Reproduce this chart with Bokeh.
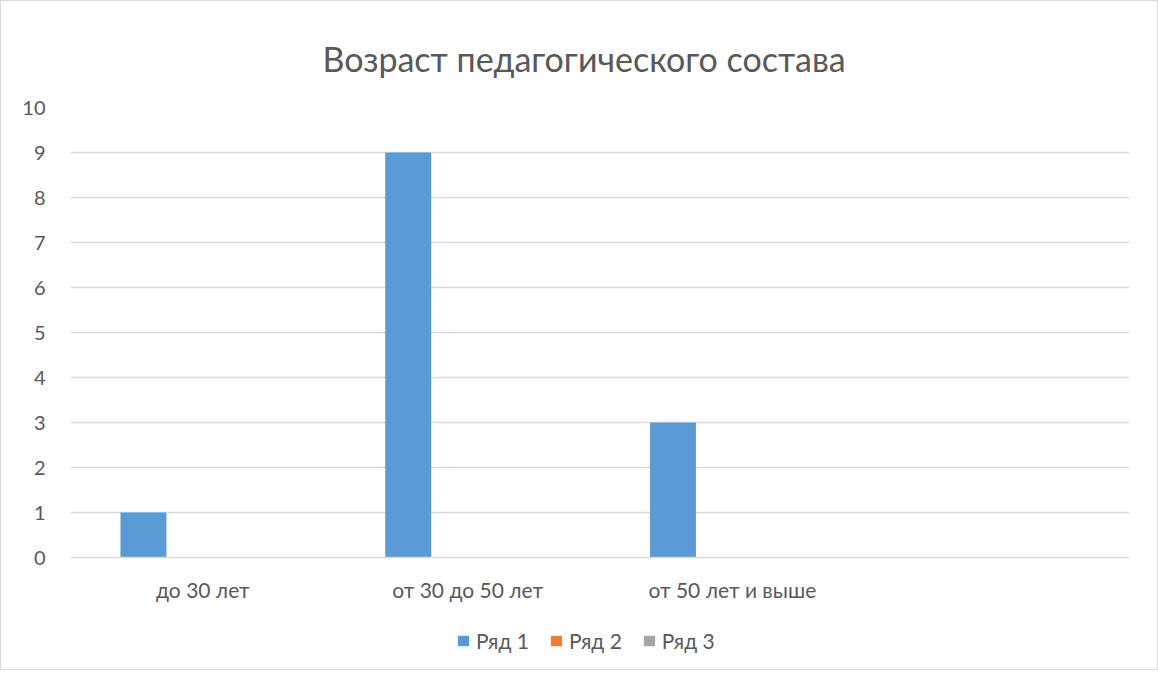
from bokeh.plotting import figure
from bokeh.layouts import column
from bokeh.models import FactorRange, ColumnDataSource, Legend, LegendItem, Range1d, FixedTicker
from bokeh.transform import dodge
from bokeh.embed import file_html
from bokeh.resources import INLINE

title_text = "Возраст педагогического состава"
categories = ["до 30 лет", "от 30 до 50 лет", "от 50 лет и выше", ""]
series_names = ["Ряд 1", "Ряд 2", "Ряд 3"]
series1 = [1, 9, 3, 0]
series2 = [0, 0, 0, 0]
series3 = [0, 0, 0, 0]
colors = ["#5B9BD5", "#ED7D31", "#A5A5A5"]
y_ticks = list(range(0, 11))

FONT = "Lato"
TXT = "#595959"

src = ColumnDataSource(dict(cat=categories, s1=series1, s2=series2, s3=series3))

p = figure(x_range=FactorRange(factors=categories), y_range=Range1d(0, 10),
           width=1156, height=606,
           min_border_left=69, min_border_right=28, min_border_top=106, min_border_bottom=50,
           output_backend="svg", toolbar_location=None, title=title_text)

p.title.align = "left"
p.title.offset = 252
p.title.text_font = FONT
p.title.text_font_size = "34px"
p.title.text_font_style = "normal"
p.title.text_color = TXT
p.title.standoff = 57

offsets = [-0.2244, 0.0, 0.2244]
keys = ["s1", "s2", "s3"]
for key, off, col in zip(keys, offsets, colors):
    p.vbar(x=dodge("cat", off, range=p.x_range), top=key, width=0.1737,
           source=src, fill_color=col, line_color=None)

p.outline_line_color = None
p.background_fill_color = "white"
p.border_fill_color = "white"

p.xgrid.grid_line_color = None
p.ygrid.grid_line_color = "#D9D9D9"
p.ygrid.grid_line_width = 1.3

p.yaxis.ticker = FixedTicker(ticks=y_ticks)
p.yaxis.axis_line_color = None
p.yaxis.major_tick_line_color = None
p.yaxis.minor_tick_line_color = None
p.yaxis.major_label_standoff = 19
p.yaxis.major_label_text_font = FONT
p.yaxis.major_label_text_font_size = "20px"
p.yaxis.major_label_text_color = TXT

p.xaxis.axis_line_color = "#D9D9D9"
p.xaxis.axis_line_width = 1.3
p.xaxis.major_tick_line_color = None
p.xaxis.minor_tick_line_color = None
p.xaxis.major_label_standoff = 13
p.xaxis.major_label_text_font = FONT
p.xaxis.major_label_text_font_size = "21px"
p.xaxis.major_label_text_color = TXT

# legend strip below the chart (its zero-width bars are invisible, only the legend shows)
lg = figure(width=1156, height=62, x_range=FactorRange(factors=categories), y_range=Range1d(-2, -1),
            min_border_left=0, min_border_right=0, min_border_top=0, min_border_bottom=0,
            output_backend="svg", toolbar_location=None)
lg.axis.visible = False
lg.grid.visible = False
lg.outline_line_color = None
lg_renderers = [lg.vbar(x="cat", top=key, width=0, source=src, fill_color=col, line_color=None)
                for key, col in zip(keys, colors)]

legend = Legend(items=[LegendItem(label=n, renderers=[r]) for n, r in zip(series_names, lg_renderers)],
                orientation="horizontal", location=(386, 16),
                glyph_width=14, glyph_height=13, label_standoff=6, spacing=20,
                label_height=20,
                label_text_font=FONT, label_text_font_size="21px", label_text_color=TXT,
                border_line_color=None, background_fill_alpha=0, margin=0, padding=0)
lg.add_layout(legend, "center")

layout = column(p, lg, spacing=0)
layout.styles = {"border": "1px solid #D9D9D9"}

open("out.html", "w").write(file_html(layout, INLINE))
